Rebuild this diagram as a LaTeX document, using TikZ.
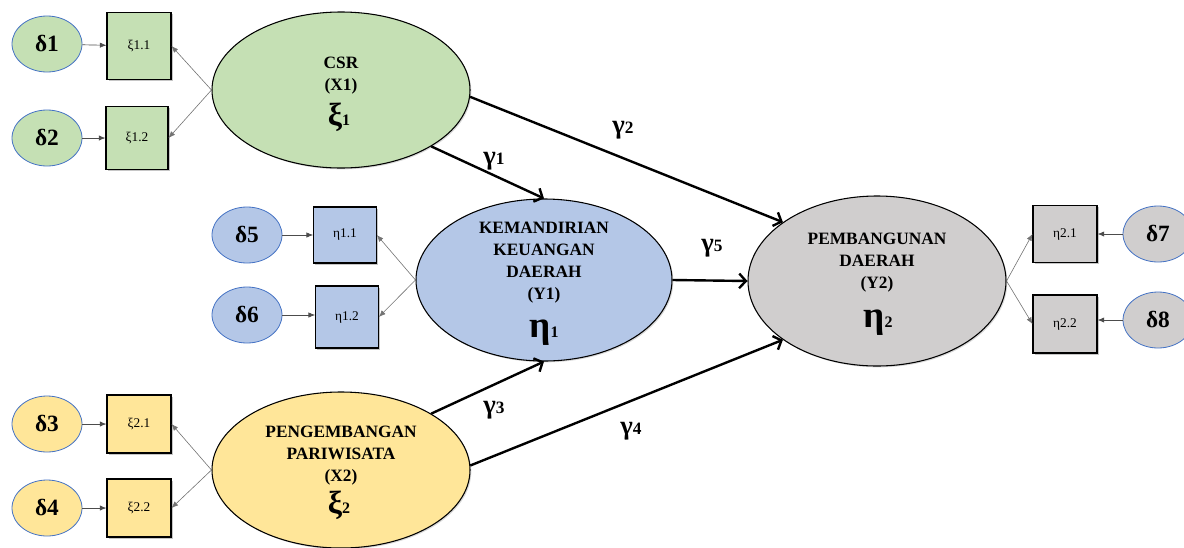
\documentclass[tikz,border=0pt]{standalone}
\usepackage{fontspec}
\setmainfont{Liberation Serif}
\usetikzlibrary{arrows.meta,shapes.geometric,shadows}

\definecolor{fillgreen}{HTML}{C5E0B4}
\definecolor{fillblue}{HTML}{B4C7E7}
\definecolor{fillyellow}{HTML}{FFE699}
\definecolor{fillgray}{HTML}{D0CECE}
\definecolor{errline}{HTML}{4472C4}

% large Greek symbol followed by a smaller index on the same baseline
\newcommand\latsym[3]{{\fontsize{#3}{#3}\selectfont #1}{\fontsize{12}{12}\selectfont #2}}
\newcommand\coefsym[2]{{\fontsize{20}{20}\selectfont #1}{\fontsize{13}{13}\selectfont #2}}

\begin{document}
\begin{tikzpicture}[x=0.75pt,y=-0.75pt,
  latent/.style={ellipse, draw=black, line width=0.8pt, inner sep=0pt,
    drop shadow={opacity=0.3,shadow xshift=1pt,shadow yshift=-1pt}},
  latname/.style={align=center, inner sep=0pt, font=\bfseries\fontsize{13}{16.5}\selectfont},
  latsymbol/.style={anchor=base, inner sep=0pt, font=\bfseries},
  err/.style={ellipse, draw=errline, line width=0.6pt, minimum width=52.5pt,
    minimum height=42pt, inner sep=0pt, font=\bfseries\fontsize{17.5}{17.5}\selectfont},
  ind/.style={rectangle, draw=black, line width=0.8pt, inner sep=0pt,
    minimum width=48pt, minimum height=43.5pt, font=\fontsize{10}{10}\selectfont,
    drop shadow={opacity=0.45,shadow xshift=1.2pt,shadow yshift=-1.2pt}},
  load/.style={-{Latex[length=5pt,width=4pt]}, draw=black!55, line width=0.45pt},
  errarrow/.style={-{Latex[length=5pt,width=4pt]}, draw=black!70, line width=0.5pt},
  struct/.style={-{Straight Barb[length=5pt,width=11pt]}, line width=1.8pt},
  coef/.style={font=\bfseries, inner sep=0pt}
]
\useasboundingbox (0,0) rectangle (1184,547);
\clip (0,0) rectangle (1184,547);

% latent constructs
\node[latent, fill=fillgreen, minimum width=193.5pt, minimum height=117pt] (csr) at (341,90) {};
\node[latent, fill=fillyellow, minimum width=193.5pt, minimum height=117pt] (x2) at (341,470) {};
\node[latent, fill=fillblue, minimum width=192pt, minimum height=121.5pt] (y1) at (544,280) {};
\node[latent, fill=fillgray, minimum width=193.5pt, minimum height=127.5pt] (y2) at (877,281) {};

% construct names and symbols
\node[latname] (csrname) at (341,76) {CSR\\(X1)};
\node[latsymbol] (csrsym) at (339,125) {\latsym{ξ}{1}{24}};
\node[latname] (x2name) at (341,456) {PENGEMBANGAN\\PARIWISATA\\(X2)};
\node[latsymbol] (x2sym) at (339,513) {\latsym{ξ}{2}{24}};
\node[latname] (y1name) at (544,262.5) {KEMANDIRIAN\\KEUANGAN\\DAERAH\\(Y1)};
\node[latsymbol] (y1sym) at (544,337) {\latsym{η}{1}{28}};
\node[latname] (y2name) at (877,263) {PEMBANGUNAN\\DAERAH\\(Y2)};
\node[latsymbol] (y2sym) at (878,327) {\latsym{η}{2}{28}};

% indicators
\node[ind, fill=fillgreen, minimum height=50pt] (b11) at (139,46) {ξ1.1};
\node[ind, fill=fillgreen, minimum width=46.5pt, minimum height=47pt] (b12) at (137,138) {ξ1.2};
\node[ind, fill=fillyellow] (b21) at (139,424) {ξ2.1};
\node[ind, fill=fillyellow] (b22) at (139,508) {ξ2.2};
\node[ind, fill=fillblue, minimum width=47pt, minimum height=42pt] (c11) at (345,235) {η1.1};
\node[ind, fill=fillblue, minimum width=47pt, minimum height=46.5pt] (c12) at (347,317) {η1.2};
\node[ind, fill=fillgray, minimum height=43pt] (c21) at (1065,234) {η2.1};
\node[ind, fill=fillgray] (c22) at (1065,324) {η2.2};

% error terms
\node[err, fill=fillgreen] (d1) at (47,44) {δ1};
\node[err, fill=fillgreen] (d2) at (47,138) {δ2};
\node[err, fill=fillyellow] (d3) at (47,424) {δ3};
\node[err, fill=fillyellow] (d4) at (47,508) {δ4};
\node[err, fill=fillblue] (d5) at (247,235) {δ5};
\node[err, fill=fillblue] (d6) at (247,315) {δ6};
\node[err, fill=fillgray] (d7) at (1158,234) {δ7};
\node[err, fill=fillgray] (d8) at (1158,320) {δ8};

% errors to indicators
\draw[errarrow] (d1) -- (b11);
\draw[errarrow] (d2) -- (b12);
\draw[errarrow] (d3) -- (b21);
\draw[errarrow] (d4) -- (b22);
\draw[errarrow] (d5) -- (c11);
\draw[errarrow] (d6) -- (c12.west |- d6);
\draw[errarrow] (d7) -- (c21);
\draw[errarrow] (d8) -- (c22.east |- d8);

% loadings
\draw[load] (csr.west) -- (b11.east);
\draw[load] (csr.west) -- (b12.east);
\draw[load] (x2.west) -- (b21.east);
\draw[load] (x2.west) -- (b22.east);
\draw[load] (y1.west) -- (c11.east);
\draw[load] (y1.west) -- (c12.east);
\draw[load] (y2.east) -- (c21.west);
\draw[load] (y2.east) -- (c22.west);

% structural paths
\draw[struct] (csr.-32) -- (y1.north);
\draw[struct] (csr.-3) -- (y2.148);
\draw[struct] (y1.east) -- (y2.west);
\draw[struct] (x2.32) -- (y1.south);
\draw[struct] (x2.2) -- (y2.212);

% path coefficients
\node[coef] (g1) at (494,161) {\coefsym{γ}{1}};
\node[coef] (g2) at (623,130) {\coefsym{γ}{2}};
\node[coef] (g3) at (494,410) {\coefsym{γ}{3}};
\node[coef] (g4) at (631,431) {\coefsym{γ}{4}};
\node[coef] (g5) at (712,248) {\coefsym{γ}{5}};
\end{tikzpicture}
\end{document}
